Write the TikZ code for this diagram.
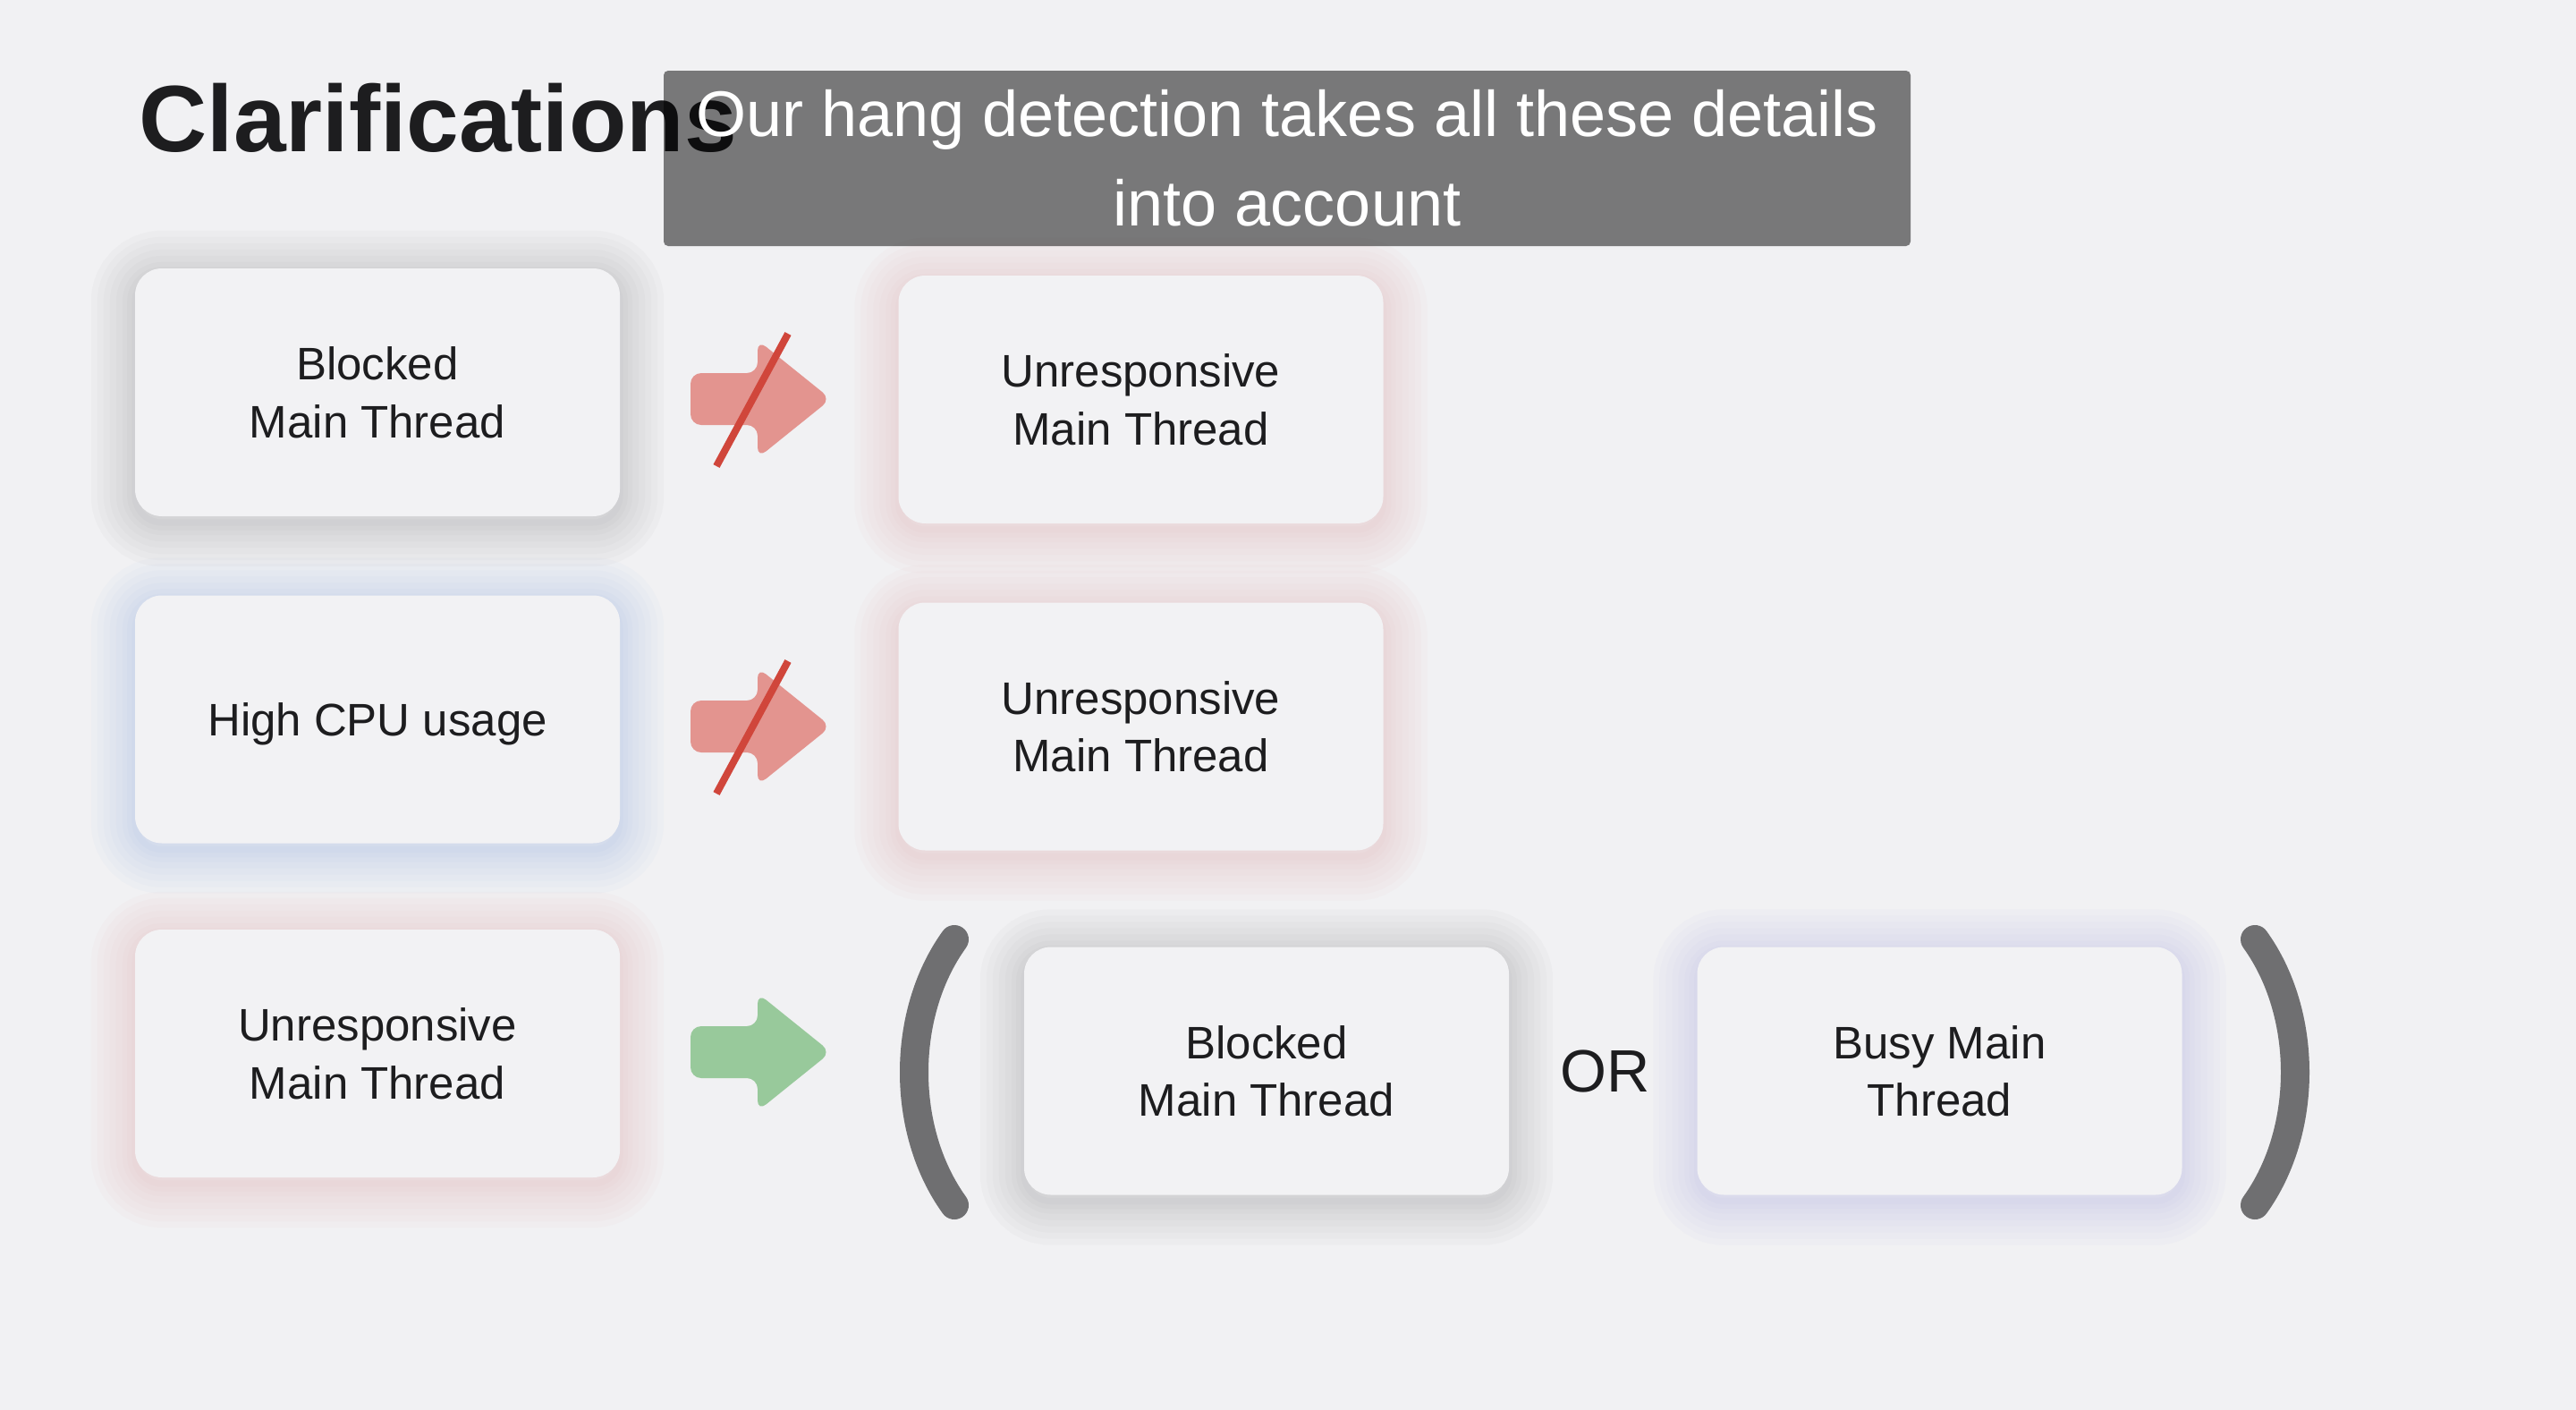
\documentclass[tikz,border=0pt]{standalone}
\usepackage{fontspec}
\setmainfont{Liberation Sans}
\definecolor{bgcol}{HTML}{F1F1F3}
\definecolor{boxcol}{HTML}{F2F2F4}
\definecolor{txtcol}{HTML}{1D1D1F}
\definecolor{redglow}{HTML}{E2A0A2}
\definecolor{blueglow}{HTML}{86A8DE}
\definecolor{lavglow}{HTML}{A2A2DC}
\definecolor{grayglow}{HTML}{86868C}
\definecolor{arrred}{HTML}{E3948F}
\definecolor{arrgreen}{HTML}{98C99B}
\definecolor{strikecol}{HTML}{D0463B}
\definecolor{parencol}{HTML}{6F6F71}
\begin{document}
\begin{tikzpicture}[
    box/.style={fill=boxcol,rounded corners=0.3cm,minimum width=5.42cm,minimum height=2.77cm,
        align=center,text=txtcol,text depth=0pt,font=\fontsize{14.5}{18.4}\selectfont},
    glowring/.style 2 args={preaction={draw=#1,line width=#2,opacity=0.038,
        transform canvas={yshift=-0.07cm}}},
    glow/.style={glowring={#1}{28pt},glowring={#1}{24pt},glowring={#1}{20pt},glowring={#1}{16pt},
        glowring={#1}{12pt},glowring={#1}{8pt},glowring={#1}{5pt},glowring={#1}{2pt}},
    redarrow/.style={fill=arrred,rounded corners=0.12cm},
    greenarrow/.style={fill=arrgreen,rounded corners=0.12cm},
    strike/.style={draw=strikecol,line width=0.08cm},
    paren/.style={draw=parencol,line width=0.32cm,line cap=round}
]
        %%%%%%%% Background %%%%%%%%
        \fill[bgcol] (0,0) rectangle (28.8,-15.76);

        %%%%%%%%%% Boxes %%%%%%%%%%%
        \node[box,glow=grayglow] (blocked1) at (4.22,-4.385) {Blocked\\Main Thread};
        \node[box,glow=redglow] (unresp1) at (12.755,-4.465) {Unresponsive\\Main Thread};
        \node[box,glow=blueglow] (cpu) at (4.22,-8.04) {High CPU usage};
        \node[box,glow=redglow] (unresp2) at (12.755,-8.12) {Unresponsive\\Main Thread};
        \node[box,glow=redglow] (unresp3) at (4.22,-11.775) {Unresponsive\\Main Thread};
        \node[box,glow=grayglow] (blocked2) at (14.16,-11.97) {Blocked\\Main Thread};
        \node[box,glow=lavglow] (busy) at (21.685,-11.97) {Busy Main\\Thread};

        %%%%%%%%%% Arrows %%%%%%%%%%
        \coordinate (a1) at (8.47,-4.46);
        \coordinate (a2) at (8.47,-8.12);
        \coordinate (a3) at (8.47,-11.76);
        \fill[redarrow] (a1) ++(-0.75,0.29) -- ++(0.75,0) -- ++(0,0.37) -- ++(0.82,-0.66)
            -- ++(-0.82,-0.66) -- ++(0,0.37) -- ++(-0.75,0) -- cycle;
        \fill[redarrow] (a2) ++(-0.75,0.29) -- ++(0.75,0) -- ++(0,0.37) -- ++(0.82,-0.66)
            -- ++(-0.82,-0.66) -- ++(0,0.37) -- ++(-0.75,0) -- cycle;
        \fill[greenarrow] (a3) ++(-0.75,0.29) -- ++(0.75,0) -- ++(0,0.37) -- ++(0.82,-0.66)
            -- ++(-0.82,-0.66) -- ++(0,0.37) -- ++(-0.75,0) -- cycle;
        \draw[strike] (a1) ++(-0.46,-0.75) -- ++(0.80,1.48);
        \draw[strike] (a2) ++(-0.46,-0.75) -- ++(0.80,1.48);

        %%%%%%% Parentheses %%%%%%%%
        \draw[paren] (10.67,-10.50) .. controls (10.07,-11.33) and (10.07,-12.64) .. (10.67,-13.47);
        \draw[paren] (25.21,-10.50) .. controls (25.81,-11.33) and (25.81,-12.64) .. (25.21,-13.47);
        \node[text=txtcol,font=\fontsize{19}{23}\selectfont] (orlabel) at (17.95,-11.97) {OR};

        %%%%%%%%%% Title %%%%%%%%%%%
        \node[anchor=base west,inner sep=0pt,text=txtcol,font=\fontsize{30}{36}\selectfont\bfseries]
            (title) at (1.55,-1.70) {Clarifications};

        %%%%%%%%% Caption %%%%%%%%%%
        \node[fill=black,fill opacity=0.5,text opacity=1,text=white,rounded corners=0.05cm,
            minimum width=13.94cm,minimum height=1.96cm,inner sep=0pt,align=center,
            font=\fontsize{20.5}{28.45}\selectfont] (caption) at (14.39,-1.77)
            {Our hang detection takes all these details\\into account};
\end{tikzpicture}
\end{document}
